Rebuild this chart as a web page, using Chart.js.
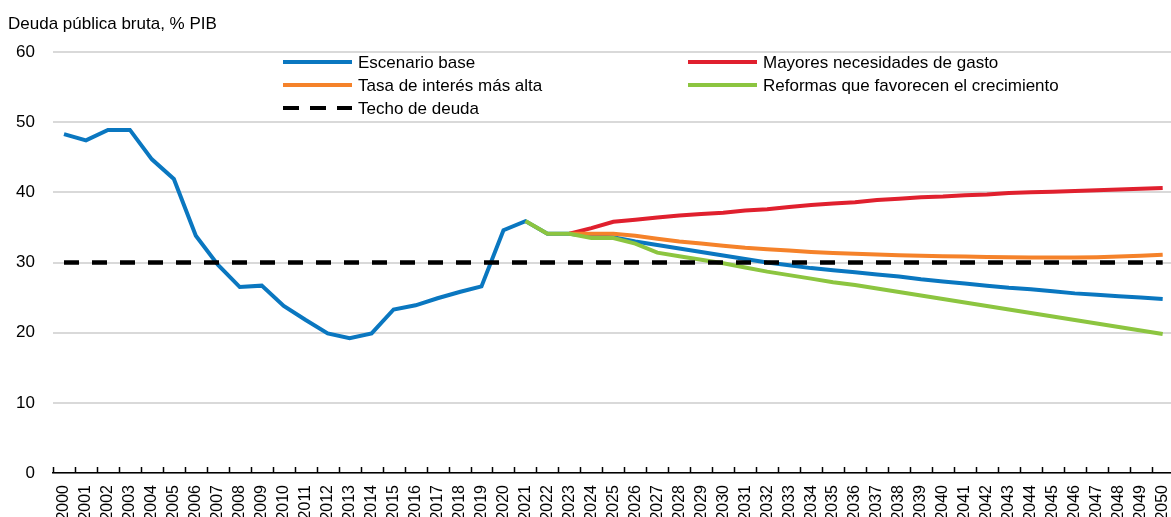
<!DOCTYPE html>
<html>
<head>
<meta charset="utf-8">
<script src="https://cdn.jsdelivr.net/npm/chart.js@4"></script>
<style>
  html, body { margin: 0; padding: 0; background: #fff; overflow: hidden; }
  #wrap { width: 1171px; height: 517px; overflow: hidden; }
  canvas { display: block; }
</style>
</head>
<body>
<div id="wrap"><canvas id="debtChart" width="1186" height="517"></canvas></div>
<script>
const TITLE = 'Deuda pública bruta, % PIB';

const years = ['2000','2001','2002','2003','2004','2005','2006','2007','2008','2009',
    '2010','2011','2012','2013','2014','2015','2016','2017','2018','2019',
    '2020','2021','2022','2023','2024','2025','2026','2027','2028','2029',
    '2030','2031','2032','2033','2034','2035','2036','2037','2038','2039',
    '2040','2041','2042','2043','2044','2045','2046','2047','2048','2049','2050'];

// Escenario base (historical + projection)
const baseline = [48.3, 47.4, 48.9, 48.9, 44.7, 41.9, 33.8, 29.7, 26.5, 26.7,
    23.8, 21.8, 19.9, 19.2, 19.9, 23.3, 23.9, 24.9, 25.8, 26.6,
    34.6, 35.9, 34.1, 34.1, 33.7, 33.6, 33.0, 32.5, 32.0, 31.5,
    31.0, 30.5, 30.0, 29.6, 29.2, 28.9, 28.6, 28.3, 28.0, 27.6,
    27.3, 27.0, 26.7, 26.4, 26.2, 25.9, 25.6, 25.4, 25.2, 25.0, 24.8];

const higherSpending = [null, null, null, null, null, null, null, null, null, null,
    null, null, null, null, null, null, null, null, null, null,
    null, null, null, 34.1, 34.9, 35.8, 36.1, 36.4, 36.7, 36.9,
    37.1, 37.4, 37.6, 37.9, 38.2, 38.4, 38.6, 38.9, 39.1, 39.3,
    39.4, 39.6, 39.7, 39.9, 40.0, 40.1, 40.2, 40.3, 40.4, 40.5, 40.6];

const higherRates = [null, null, null, null, null, null, null, null, null, null,
    null, null, null, null, null, null, null, null, null, null,
    null, null, null, 34.1, 34.1, 34.1, 33.8, 33.4, 33.0, 32.7,
    32.4, 32.1, 31.9, 31.7, 31.5, 31.35, 31.25, 31.15, 31.05, 30.95,
    30.9, 30.85, 30.8, 30.75, 30.7, 30.7, 30.7, 30.75, 30.85, 30.95, 31.1];

const growthReforms = [null, null, null, null, null, null, null, null, null, null,
    null, null, null, null, null, null, null, null, null, null,
    null, 35.9, 34.1, 34.1, 33.5, 33.5, 32.7, 31.4, 30.9, 30.4,
    29.9, 29.3, 28.7, 28.2, 27.7, 27.2, 26.8, 26.3, 25.8, 25.3,
    24.8, 24.3, 23.8, 23.3, 22.8, 22.3, 21.8, 21.3, 20.8, 20.3, 19.8];

const debtCeiling = [30, 30, 30, 30, 30, 30, 30, 30, 30, 30,
    30, 30, 30, 30, 30, 30, 30, 30, 30, 30,
    30, 30, 30, 30, 30, 30, 30, 30, 30, 30,
    30, 30, 30, 30, 30, 30, 30, 30, 30, 30,
    30, 30, 30, 30, 30, 30, 30, 30, 30, 30, 30];

const FONT = '"Liberation Sans", Arial, sans-serif';
const COLORS = {
    blue: '#0a77c0',
    red: '#e0202e',
    orange: '#f5822a',
    green: '#8cc540',
    black: '#000000'
};
const DASH = [15, 13];

// legend layout: two columns inside the plot
const legendItems = [
    { label: 'Escenario base', color: COLORS.blue, x: 283, y: 62 },
    { label: 'Mayores necesidades de gasto', color: COLORS.red, x: 688, y: 62 },
    { label: 'Tasa de interés más alta', color: COLORS.orange, x: 283, y: 85 },
    { label: 'Reformas que favorecen el crecimiento', color: COLORS.green, x: 688, y: 85 },
    { label: 'Techo de deuda', color: COLORS.black, x: 283, y: 108, dash: [16, 11] }
];

const extrasPlugin = {
    id: 'extras',
    afterDraw(chart) {
        const { ctx, chartArea, scales: { x } } = chart;
        ctx.save();

        // title
        ctx.font = '17px ' + FONT;
        ctx.fillStyle = '#000';
        ctx.textAlign = 'left';
        ctx.textBaseline = 'middle';
        ctx.fillText(TITLE, 8, 24);

        // small tick marks between categories, pointing up
        const step = x.getPixelForValue(1) - x.getPixelForValue(0);
        ctx.strokeStyle = '#000';
        ctx.lineWidth = 1.5;
        ctx.beginPath();
        for (let i = 0; i <= years.length; i++) {
            const px = Math.round(x.getPixelForValue(i) - step / 2) + 0.5;
            ctx.moveTo(px, chartArea.bottom);
            ctx.lineTo(px, chartArea.bottom - 6);
        }
        ctx.stroke();

        // legend
        legendItems.forEach(item => {
            ctx.beginPath();
            ctx.strokeStyle = item.color;
            ctx.lineWidth = 4;
            ctx.setLineDash(item.dash || []);
            ctx.moveTo(item.x, item.y);
            ctx.lineTo(item.x + 69, item.y);
            ctx.stroke();
            ctx.setLineDash([]);
            ctx.fillStyle = '#000';
            ctx.font = '17px ' + FONT;
            ctx.fillText(item.label, item.x + 75, item.y + 1);
        });

        ctx.restore();
    }
};

function initChart() {
    const ctx = document.getElementById('debtChart').getContext('2d');

    new Chart(ctx, {
        type: 'line',
        data: {
            labels: years,
            datasets: [
                { label: 'Escenario base', data: baseline, borderColor: COLORS.blue, order: 5 },
                { label: 'Mayores necesidades de gasto', data: higherSpending, borderColor: COLORS.red, order: 4 },
                { label: 'Tasa de interés más alta', data: higherRates, borderColor: COLORS.orange, order: 3 },
                { label: 'Reformas que favorecen el crecimiento', data: growthReforms, borderColor: COLORS.green, order: 2 },
                { label: 'Techo de deuda', data: debtCeiling, borderColor: COLORS.black, borderDash: DASH, borderWidth: 4.5, order: 1 }
            ]
        },
        options: {
            responsive: false,
            animation: false,
            devicePixelRatio: 1,
            layout: { padding: { top: 52, right: 11, bottom: 0, left: 0 } },
            elements: {
                point: { radius: 0 },
                line: { borderWidth: 4, tension: 0, fill: false, borderCapStyle: 'butt' }
            },
            plugins: {
                legend: { display: false },
                title: { display: false },
                tooltip: { enabled: false }
            },
            scales: {
                x: {
                    offset: true,
                    grid: { display: false },
                    border: { display: true, color: '#000', width: 1.5 },
                    ticks: {
                        autoSkip: false,
                        minRotation: 90,
                        maxRotation: 90,
                        padding: 4,
                        color: '#000',
                        font: { family: FONT, size: 16 }
                    },
                    afterFit(scale) { scale.height = 44; }
                },
                y: {
                    min: 0,
                    max: 60,
                    grid: { color: '#d9d9d9', lineWidth: 2, drawTicks: false },
                    border: { display: false },
                    ticks: {
                        stepSize: 10,
                        padding: 18,
                        color: '#000',
                        font: { family: FONT, size: 17 }
                    },
                    afterFit(scale) { scale.width = 53; }
                }
            }
        },
        plugins: [extrasPlugin]
    });
}

document.addEventListener('DOMContentLoaded', initChart);
</script>
</body>
</html>
